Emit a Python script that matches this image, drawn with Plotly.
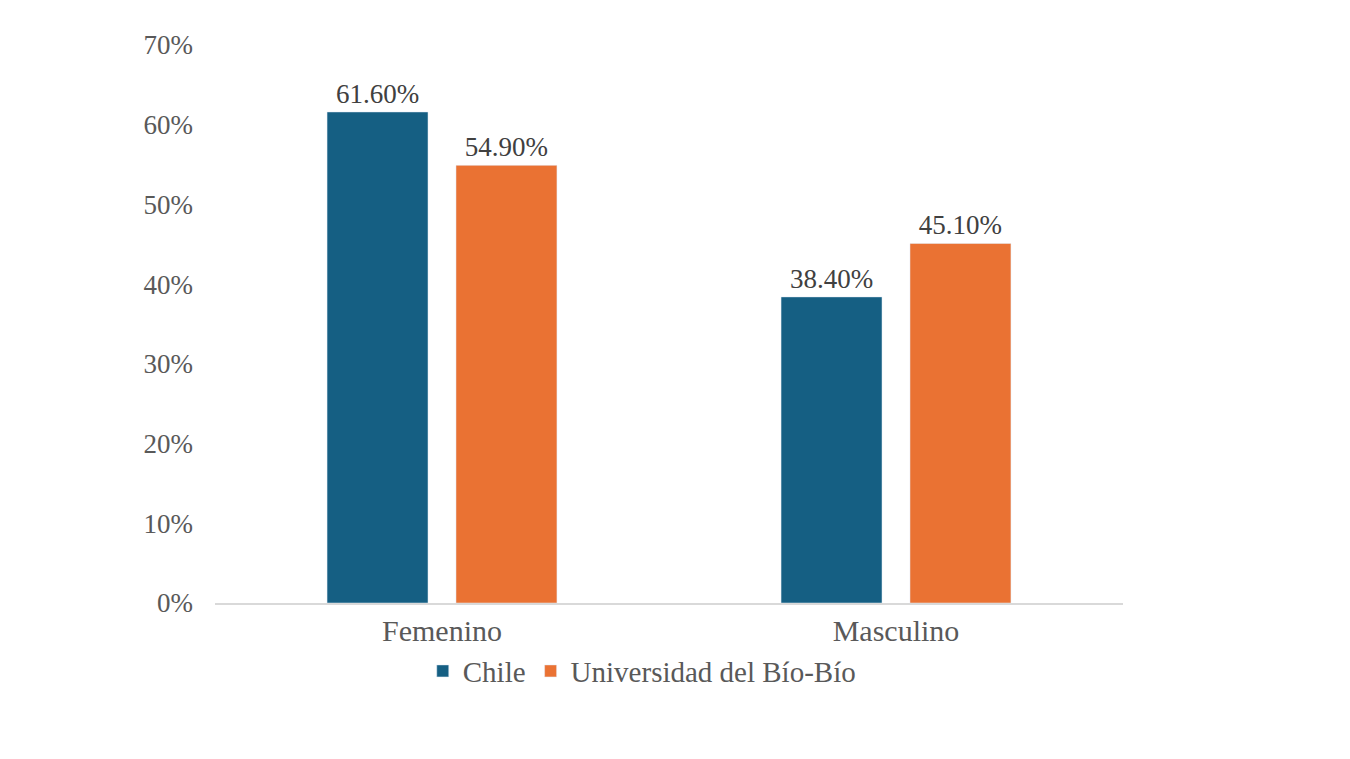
import plotly.graph_objects as go

# categories and series values (percent)
categories = ["Femenino", "Masculino"]
chile = [61.6, 38.4]
ubb = [54.9, 45.1]
y_ticks = [0, 10, 20, 30, 40, 50, 60, 70]

font_family = "Liberation Serif"

fig = go.Figure()
fig.add_trace(go.Bar(
    x=categories, y=chile, name="Chile",
    marker_color="#155F83",
    text=[f"{v:.2f}%" for v in chile], textposition="outside",
    textfont=dict(size=27, color="#404040"),
    cliponaxis=False,
))
fig.add_trace(go.Bar(
    x=categories, y=ubb, name="Universidad del Bío-Bío",
    marker_color="#EA7233",
    text=[f"{v:.2f}%" for v in ubb], textposition="outside",
    textfont=dict(size=27, color="#404040"),
    cliponaxis=False,
))

# page body adds 8px offset, so margins are shifted by that
fig.update_layout(
    width=1350, height=759,
    margin=dict(l=207, r=235, t=37, b=164),
    paper_bgcolor="white", plot_bgcolor="white",
    font=dict(family=font_family, size=27, color="#595959"),
    barmode="group", bargap=0.432, bargroupgap=0.217,
    showlegend=True,
    legend=dict(orientation="h", x=0.47, xanchor="center", y=-0.122, yanchor="middle",
                font=dict(size=29, color="#595959"), itemwidth=30,
                traceorder="normal"),
)
fig.update_yaxes(range=[0, 70], tickvals=y_ticks,
                 ticktext=[f"{v}%" for v in y_ticks],
                 showgrid=False, zeroline=False, showline=False,
                 tickfont=dict(size=27), ticklabelstandoff=21)
fig.update_xaxes(showline=True, linecolor="#D9D9D9", linewidth=1.5,
                 ticks="", tickfont=dict(size=30))

fig.write_html("out.html")
